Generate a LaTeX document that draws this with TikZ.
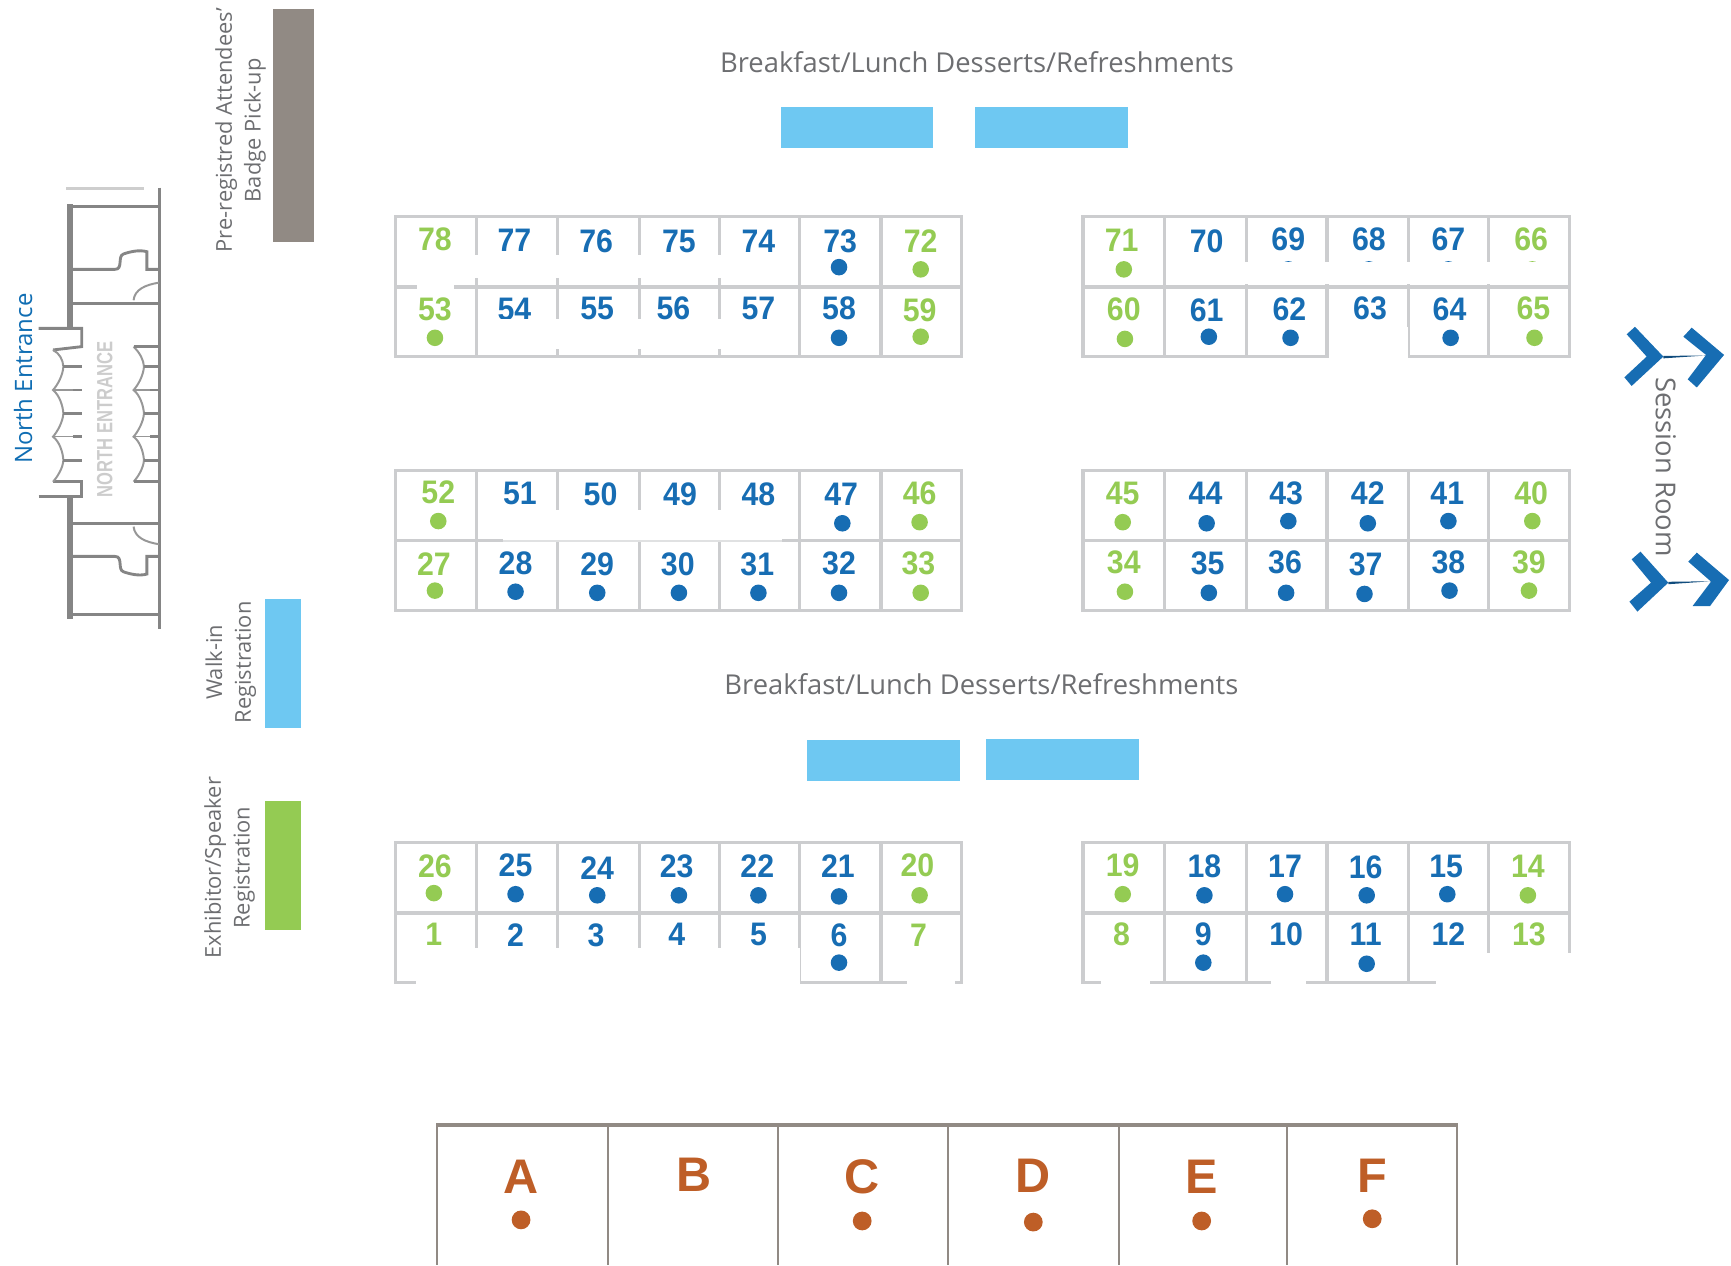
\documentclass[tikz,border=0pt]{standalone}
\usepackage{fontspec}
\setmainfont{Open Sans}
\newfontfamily\numfont[FakeStretch=0.93]{Liberation Sans}
\newfontfamily\letterfont{Liberation Sans}
\newfontfamily\planfont[FakeStretch=0.75]{Liberation Sans}
\definecolor{gridgray}{HTML}{CCCDCF}
\definecolor{boothblue}{HTML}{176DB3}
\definecolor{boothgreen}{HTML}{94CB53}
\definecolor{tableblue}{HTML}{6EC8F2}
\definecolor{textgray}{HTML}{6D6E71}
\definecolor{badgegray}{HTML}{918A84}
\definecolor{wallgray}{HTML}{858585}
\definecolor{rustc}{HTML}{BE5E27}
\definecolor{northblue}{HTML}{0F6DB3}
\tikzset{
 gridline/.style={draw=gridgray,line width=2.8pt},
 plan/.style={draw=wallgray,line width=2.6pt},
 door/.style={draw=wallgray!85,line width=1.8pt},
 numlab/.style={font=\numfont\bfseries\fontsize{29.5}{29.5}\selectfont,inner sep=0pt,anchor=center},
 caption/.style={font=\fontsize{24.8}{24.8}\selectfont,text=textgray,inner sep=0pt,align=center},
 sidecap/.style={font=\fontsize{19.8}{26}\selectfont,text=textgray,inner sep=0pt,align=center,rotate=90},
 gap/.style={fill=white,draw=none},
 letterlab/.style={font=\letterfont\bfseries\fontsize{44}{44}\selectfont,text=rustc,inner sep=0pt},
}
\begin{document}
\begin{tikzpicture}[x=1pt,y=-1pt]
\useasboundingbox (0,0) rectangle (1568,1146);
% grids
\foreach \ya/\yb/\yc in {196/260/323,426/490/553,763/827/890}{
 \draw[gridline] (358,\ya) rectangle (871,\yc);
 \draw[gridline] (358,\yb) -- (871,\yb);
 \foreach \xx in {432,505,579,652,724,798} \draw[gridline] (\xx,\ya) -- (\xx,\yc);
 \draw[gridline] (981,\ya) rectangle (1422,\yc);
 \draw[gridline] (981,\yb) -- (1422,\yb);
 \foreach \xx in {1055,1129,1202,1276,1348} \draw[gridline] (\xx,\ya) -- (\xx,\yc);
}
% dots
\foreach \xx/\yy in {394/306,834/244,834/305,1018/244,1019/307,1390/306,1388/244,397/472,833/473,394/535,834/537,1017/473,1388/472,1019/536,1385/535,393/809,833/811,1017/810,1384/811}
 \fill[boothgreen] (\xx,\yy) circle (7.5);
\foreach \xx/\yy in {760/242,760/306,1167/244,1240/244,1312/244,1095/305,1169/306,1314/306,763/474,467/536,541/537,615/537,687/537,760/537,1093/474,1167/472,1239/474,1312/472,1095/537,1165/537,1236/538,1313/535,467/810,541/811,615/811,687/811,760/812,760/872,1091/811,1164/810,1238/811,1311/810,1090/872,1238/873}
 \fill[boothblue] (\xx,\yy) circle (7.5);
% gaps in the grid
\fill[gap] (362,231) rectangle (722,252);
\fill[gap] (378,258) rectangle (411,262);
\fill[gap] (440,289) rectangle (718,316);
\fill[gap] (1057,237) rectangle (1420,257);
\fill[gap] (1203.4,296) rectangle (1275,326);
\fill[gap] (434,462) rectangle (722,488.6);
\fill[gap] (456,488.6) rectangle (708,491.4);
\draw[draw=gridgray!60,line width=1.4pt] (456,490) -- (708,490);
\fill[gap] (425,859) rectangle (725,893);
\fill[gap] (377,885) rectangle (430,893);
\fill[gap] (822,885) rectangle (865,893);
\fill[gap] (997,885) rectangle (1042,893);
\fill[gap] (1151,885) rectangle (1183,893);
\fill[gap] (1301,885) rectangle (1424,893);
\fill[gap] (1346,863) rectangle (1424,893);
% numbers
\foreach \n/\xx/\yy in {78/394/217,53/394/280,72/834/218,59/833/281,71/1016/218,66/1387/217,60/1018/280,65/1389/279,52/397/446,46/833/447,27/393/511,33/832/510,45/1017/447,40/1387/447,34/1018/509,39/1385/509,26/394/785,20/831/784,1/393/846,7/832/847,19/1017/784,14/1384/785,8/1016/846,13/1385/846}
 \node[numlab,text=boothgreen] (n\n) at (\xx,\yy) {\n};
\foreach \n/\xx/\yy in {77/466/218,76/540/219,75/615/219,74/687/219,73/761/219,54/466/280,55/541/279,56/610/279,57/687/279,58/760/279,70/1093/219,69/1167/217,68/1240/217,67/1312/217,61/1093/281,62/1168/280,63/1241/279,64/1313/280,51/471/447,50/544/448,49/616/448,48/687/448,47/762/448,28/467/510,29/541/511,30/614/511,31/686/511,32/760/510,44/1092/447,43/1165/447,42/1239/447,41/1311/447,35/1094/510,36/1164/509,37/1237/511,38/1312/509,25/467/784,24/541/786,23/613/785,22/686/785,21/759/785,2/467/847,3/540/847,4/613/846,5/687/846,6/760/847,18/1091/785,17/1164/785,16/1237/786,15/1310/785,9/1090/846,10/1165/846,11/1237/846,12/1312/846}
 \node[numlab,text=boothblue] (n\n) at (\xx,\yy) {\n};
% clip of the foot of 54
\fill[gap] (448,288.6) rectangle (486,291);
% captions and tables
\node[caption] (captop) at (885,56) {Breakfast/Lunch Desserts/Refreshments};
\node[caption] (capmid) at (889,620) {Breakfast/Lunch Desserts/Refreshments};
\fill[tableblue] (707,97) rectangle (845,134);
\fill[tableblue] (883,97) rectangle (1022,134);
\fill[tableblue] (731,670.5) rectangle (869.5,707.5);
\fill[tableblue] (893,669.5) rectangle (1032,706.5);
% side boxes
\fill[badgegray] (247,8) rectangle (284,219);
\fill[tableblue] (240,543) rectangle (273,659);
\fill[boothgreen] (240,726) rectangle (273,842);
\node[sidecap] (capbadge) at (218,118) {Pre-registred Attendees'\\Badge Pick-up};
\node[sidecap] (capwalk) at (209,600) {Walk-in\\Registration};
\node[sidecap] (capexh) at (208,786) {Exhibitor/Speaker\\Registration};
\node[rotate=90,font=\fontsize{21.7}{21.7}\selectfont,text=northblue,inner sep=0pt] (north) at (21,343) {North Entrance};
\node[rotate=-90,caption] (session) at (1509,423) {Session Room};
% letters
\draw[draw=badgegray,line width=3pt] (395,1019) -- (1321,1019);
\foreach \xx in {396,551,704.5,859,1013.5,1165.5,1320} \draw[draw=badgegray,line width=2pt] (\xx,1019) -- (\xx,1146);
\foreach \l/\xx/\yy/\dy in {A/472/1066/1105,B/628.5/1064/0,C/781/1066/1106,D/936/1065/1107,E/1088.5/1066/1106,F/1243/1065/1104}{
 \node[letterlab] (L\l) at (\xx,\yy) {\l};
 \ifnum\dy>0 \fill[rustc] (\xx,\dy) circle (8.5);\fi
}
% plan of the north entrance
\draw[plan,line width=3.4pt] (144.4,170) -- (144.4,570);
\draw[plan,line width=5pt] (63.4,185) -- (63.4,299) (63.4,449) -- (63.4,561);
\draw[plan] (62,187.2) -- (145,187.2) (62,557) -- (145,557) (62,275) -- (145,275) (62,474) -- (145,474);
\draw[draw=wallgray!40,line width=2.4pt] (60,170.6) -- (130,170.6);
\draw[plan] (63,244) -- (104,244) .. controls (112,244) and (106,232) .. (112,230) .. controls (118,228) and (126,226) .. (133,228) -- (133,244) -- (144,244);
\draw[plan] (63,504) -- (104,504) .. controls (112,504) and (106,516) .. (112,518) .. controls (118,520) and (126,522) .. (133,520) -- (133,504) -- (144,504);
\draw[door] (121,272) .. controls (122,262) and (132,258) .. (144,256);
\draw[door] (121,477) .. controls (122,487) and (132,491) .. (144,493);
\draw[plan] (35,297.5) -- (74,297.5) -- (74,314) -- (48,317);
\draw[plan] (35,449.4) -- (74,449.4) -- (74,436.4) -- (48,436.4);
\draw[door] (48,317) .. controls (54,320) and (57,326) .. (57.4,332)
  .. controls (57,340) and (52,349) .. (48,353.3)
  .. controls (54,358) and (57,368) .. (57.4,374.5)
  .. controls (57,382) and (52,391) .. (48,395.6)
  .. controls (54,400) and (57,410) .. (57.4,416.8)
  .. controls (57,424) and (52,432) .. (48,436.4);
\draw[door] (121,314) .. controls (127,320) and (130,326) .. (130.4,332)
  .. controls (130,340) and (125,349) .. (121,353.3)
  .. controls (127,358) and (130,368) .. (130.4,374.5)
  .. controls (130,382) and (125,391) .. (121,395.6)
  .. controls (127,400) and (130,410) .. (130.4,416.8)
  .. controls (130,424) and (125,432) .. (121,436.4);
\foreach \yy in {332,374.5,416.8}{
 \draw[plan] (57.4,\yy) -- (74,\yy);
 \draw[plan] (130.4,\yy) -- (144,\yy);
}
\foreach \yy in {353.3,395.6}{
 \draw[door,line width=1.2pt] (48,\yy) -- (66,\yy);
 \draw[plan] (66,\yy) -- (74,\yy);
 \draw[door,line width=1.2pt] (121,\yy) -- (136,\yy);
 \draw[plan] (136,\yy) -- (144,\yy);
}
\draw[plan] (121,314) -- (144,314) (121,436.4) -- (144,436.4);
\node[rotate=90,font=\planfont\bfseries\fontsize{20}{20}\selectfont,text=wallgray!42,inner sep=0pt] (plantext) at (95,380) {NORTH ENTRANCE};
% arrows
\fill[boothblue] (1481,296) -- (1506.7,323) -- (1478,349.6) -- (1471.4,341.8) -- (1491.6,323) -- (1473.5,302.8) -- cycle;
\fill[boothblue] (1532.4,296.8) -- (1561.7,321.5) -- (1537,351) -- (1528.8,343.6) -- (1545.4,321.5) -- (1524.8,305) -- cycle;
\fill[boothblue!70!black] (1506.7,322.4) -- (1545.4,322) -- (1506.7,324.6) -- cycle;
\fill[boothblue] (1486,499.7) -- (1511.2,527.8) -- (1483.2,554) -- (1476,545) -- (1495.5,527.8) -- (1478,506.7) -- cycle;
\fill[boothblue] (1537,500.6) -- (1566.2,525.4) -- (1549,549) -- (1533.2,549) -- (1549.9,526.8) -- (1529.3,508.8) -- cycle;
\fill[boothblue!70!black] (1511.2,527) -- (1549.9,526.5) -- (1511.2,529.2) -- cycle;
\end{tikzpicture}
\end{document}
